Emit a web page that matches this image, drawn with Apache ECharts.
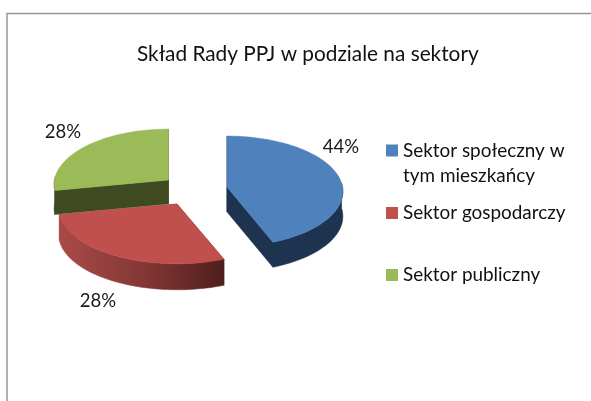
<!DOCTYPE html>
<html><head><meta charset="utf-8">
<style>html,body{margin:0;padding:0;background:#fff}#c{width:591px;height:401px}</style>
<script src="https://cdn.jsdelivr.net/npm/echarts@6/dist/echarts.min.js"></script>
</head><body><div id="c"></div>
<script>
const titleText = 'Skład Rady PPJ w podziale na sektory';
const categories = ['Sektor społeczny w\ntym mieszkańcy', 'Sektor gospodarczy', 'Sektor publiczny'];
const values = [44, 28, 28];
const labels = ['44%', '28%', '28%'];

const topColors = ['#4F81BD', '#C0504D', '#9BBB59'];
const centers = [[227, 187], [177, 204], [168.5, 180]];
const radii = [115.5, 118, 114];
const depths = [25, 26, 24];
const labelPos = [[341, 147], [98, 301], [63, 132]];
const legendTops = [113, 200.5, 262.5];
const B = 55, K = 0.08;
const total = values.reduce((a, b) => a + b, 0);
const starts = values.map((_, i) => values.slice(0, i).reduce((a, b) => a + b, 0) / total * 360);

function rim(i, deg, dy) {
  const c = centers[i], t = deg * Math.PI / 180, X = Math.sin(t), Z = Math.cos(t), w = 1 + K * Z;
  return [c[0] + radii[i] * X / w, c[1] - B * Z / w + (dy || 0)];
}
function arc(i, a, b, dy) {
  const pts = [];
  for (let d = a; d < b; d += 2) pts.push(rim(i, d, dy));
  pts.push(rim(i, b, dy));
  return pts;
}
function wallFill(i) {
  if (i === 0) return '#1D334F';
  if (i === 2) return '#3F4A22';
  return new echarts.graphic.LinearGradient(60, 0, 224, 0, [
    { offset: 0, color: '#A84A47' }, { offset: 0.5, color: '#853836' }, { offset: 1, color: '#4F1E1C' }
  ], true);
}
function makeItem(i) {
  return function (params, api) {
    const sweep = api.value(0) / total * 360, a = starts[i], b = a + sweep, c = centers[i], D = depths[i];
    const fill = wallFill(i), children = [];
    const poly = (pts, f) => ({ type: 'polygon', shape: { points: pts }, style: { fill: f, stroke: f, lineWidth: 0.5 } });
    [a, b].forEach(d => {
      const r = rim(i, d);
      children.push(poly([c, r, [r[0], r[1] + D], [c[0], c[1] + D]], fill));
    });
    const lo = Math.max(a, 86), hi = Math.min(b, 274);
    if (hi > lo) children.push(poly(arc(i, lo, hi).concat(arc(i, lo, hi, D).reverse()), fill));
    children.push(poly([c].concat(arc(i, a, b)), topColors[i]));
    children.push({ type: 'text', x: labelPos[i][0], y: labelPos[i][1],
      style: { text: labels[i], fill: '#1a1a1a', font: '18.5px Lato', align: 'center', verticalAlign: 'middle' } });
    return { type: 'group', children };
  };
}
const order = [2, 1, 0];
const chart = echarts.init(document.getElementById('c'), null, { renderer: 'canvas' });
chart.setOption({
  animation: false,
  backgroundColor: '#fff',
  title: { text: titleText, left: 137, top: 44, padding: 0,
    textStyle: { fontFamily: 'Lato', fontSize: 20.8, fontWeight: 'normal', color: '#111' } },
  graphic: [{ type: 'rect', silent: true, z: -1, shape: { x: 7, y: 13.5, width: 700, height: 500 },
    style: { fill: 'none', stroke: '#969696', lineWidth: 1.5 } }],
  legend: categories.map((n, i) => ({
    data: [n], left: 386, top: legendTops[i], orient: 'vertical', padding: 0,
    itemWidth: 12, itemHeight: 12, itemGap: 0, selectedMode: false,
    icon: 'rect',
    itemStyle: { color: topColors[i], borderWidth: 0 },
    formatter: s => (s.indexOf('\n') >= 0 ? '\n' + s : s),
    textStyle: { fontFamily: 'Lato', fontSize: 18.9, color: '#111', lineHeight: 25 }
  })),
  series: order.map(i => ({
    type: 'custom', name: categories[i], coordinateSystem: 'none', silent: true,
    itemStyle: { color: topColors[i] },
    renderItem: makeItem(i),
    data: [{ name: categories[i], value: [values[i]] }]
  }))
});
</script></body></html>
